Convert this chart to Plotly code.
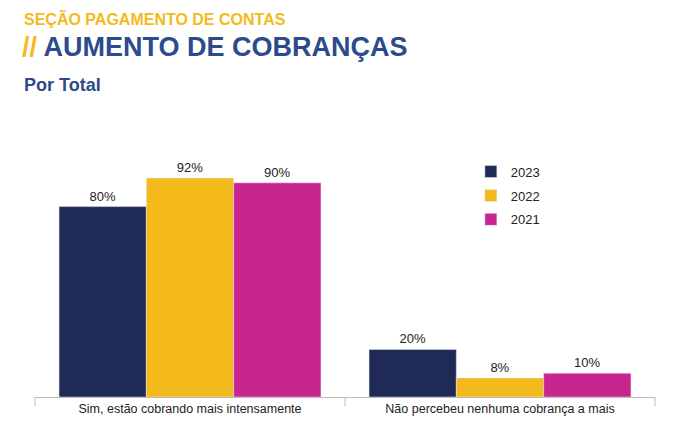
import plotly.graph_objects as go

categories = ["Sim, estão cobrando mais intensamente", "Não percebeu nenhuma cobrança a mais"]
years = ["2023", "2022", "2021"]
values = {"2023": [80, 20], "2022": [92, 8], "2021": [90, 10]}
colors = {"2023": "#1F2A56", "2022": "#F4BA1B", "2021": "#C8268F"}

fig = go.Figure()
for y in years:
    fig.add_bar(x=categories, y=values[y], name=y, marker_color=colors[y], legendgroup=y,
                text=[f"{v}%" for v in values[y]], textposition="outside",
                textfont=dict(size=13, color="#222"), cliponaxis=False)

fig.update_layout(
    width=675, height=436, barmode="group", bargap=0.155, bargroupgap=0,
    margin=dict(l=27, r=28, t=151, b=47),
    paper_bgcolor="white", plot_bgcolor="white",
    font=dict(family="Liberation Sans, Arial", color="#222"),
    legend=dict(x=0.703, y=1.01, xanchor="left", yanchor="top", font=dict(size=13),
                itemwidth=30, tracegroupgap=4, bgcolor="rgba(0,0,0,0)"),
    xaxis=dict(showline=True, linecolor="#BBBBBB", tickfont=dict(size=12.5, color="#222"),
               ticks="", showgrid=False),
    yaxis=dict(range=[0, 100], visible=False),
    annotations=[
        dict(x=-0.021, y=1.592, xref="paper", yref="paper", xanchor="left", yanchor="middle",
             text="<b>SEÇÃO PAGAMENTO DE CONTAS</b>", showarrow=False,
             font=dict(size=16, color="#F4BA1B")),
        dict(x=-0.024, y=1.471, xref="paper", yref="paper", xanchor="left", yanchor="middle",
             text="<b><span style='color:#F4BA1B'>//</span> AUMENTO DE COBRANÇAS</b>", showarrow=False,
             font=dict(size=27, color="#2B4B8C")),
        dict(x=-0.021, y=1.311, xref="paper", yref="paper", xanchor="left", yanchor="middle",
             text="<b>Por Total</b>", showarrow=False,
             font=dict(size=18, color="#2B4B8C")),
    ],
    shapes=[dict(type="line", xref="paper", yref="paper", x0=p, x1=p, y0=0, y1=-0.04,
                 line=dict(color="#BBBBBB", width=1)) for p in (0, 0.5, 1)],
)
fig.write_html("out.html")
